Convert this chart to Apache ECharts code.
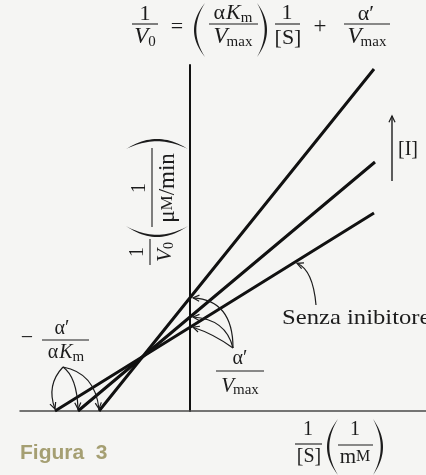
<!DOCTYPE html>
<html>
<head>
<meta charset="utf-8">
<script src="https://cdn.jsdelivr.net/npm/echarts@6/dist/echarts.min.js"></script>
<style>
html, body { margin: 0; padding: 0; background: #f5f5f3; }
#c { width: 426px; height: 475px; }
</style>
</head>
<body>
<div id="c"></div>
<script>
// Lineweaver–Burk plot: 1/V0 against 1/[S] for increasing inhibitor concentration
const X_MIN = -8.5, X_MAX = 11.8, Y_MAX = 17.3;
const seriesNames = ['[I] alta', '[I] media', 'Senza inibitore'];
const xIntercepts = [-4.55, -5.6, -6.75];   // -α'/αKm
const yIntercepts = [5.66, 4.7, 4.19];      // α'/Vmax
const endX = [9.2, 9.25, 9.2];
const endY = [17.1, 12.45, 9.9];

const SERIF = '"Liberation Serif", "DejaVu Serif", serif';
const INK = '#1c1c1c';

const chart = echarts.init(document.getElementById('c'));
chart.setOption({
  backgroundColor: '#f5f5f3',
  animation: false,
  grid: { left: 20, right: 0, top: 65, bottom: 64 },
  xAxis: {
    type: 'value', min: X_MIN, max: X_MAX,
    axisLine: { onZero: true, lineStyle: { color: '#4a4a4a', width: 1.5 } },
    axisTick: { show: false }, axisLabel: { show: false }, splitLine: { show: false }
  },
  yAxis: {
    type: 'value', min: 0, max: Y_MAX,
    axisLine: { show: true, onZero: true, lineStyle: { color: '#111', width: 2 } },
    axisTick: { show: false }, axisLabel: { show: false }, splitLine: { show: false }
  },
  series: seriesNames.map((name, i) => ({
    type: 'line', name,
    data: [[xIntercepts[i], 0], [0, yIntercepts[i]], [endX[i], endY[i]]],
    symbol: 'none', silent: true, z: 3,
    lineStyle: { color: '#111', width: 3, cap: 'butt' }
  }))
});

const toPx = p => chart.convertToPixel({ gridIndex: 0 }, p);

// ---- drawing helpers ----
const measureCtx = document.createElement('canvas').getContext('2d');
function fontOf(size, italic, bold, family) {
  return (italic ? 'italic ' : '') + (bold ? 'bold ' : '') + size + 'px ' + (family || SERIF);
}
function txt(x, y, text, size, opts = {}) {
  const align = opts.align || 'center';
  const style = {
    text, x: 0, y: 0,
    font: fontOf(size, opts.italic, opts.bold, opts.family),
    fill: opts.fill || INK,
    align, verticalAlign: 'middle',
    textAlign: align, textVerticalAlign: 'middle'
  };
  if (opts.rich) style.rich = opts.rich;
  return { type: 'text', x, y, z: 20, scaleX: opts.scaleX || 1, style };
}
// a run of glyph groups set side by side (e.g. V + subscript), centred on cx
// pieces: [text, size, italic, dy, gapBefore]
function run(cx, y, pieces) {
  const widths = pieces.map(p => { measureCtx.font = fontOf(p[1], p[2]); return measureCtx.measureText(p[0]).width; });
  const total = widths.reduce((s, w, i) => s + w + (pieces[i][4] || 0), 0);
  let x = cx - total / 2;
  return pieces.map((p, i) => {
    x += p[4] || 0;
    const el = txt(x, y + (p[3] || 0), p[0], p[1], { italic: p[2], align: 'left' });
    x += widths[i];
    return el;
  });
}
function seg(x1, y1, x2, y2, w = 1.1, color = INK) {
  return { type: 'line', z: 20, shape: { x1, y1, x2, y2 }, style: { stroke: color, lineWidth: w } };
}
// crescent shaped bracket, thick in the middle; dir -1 for "(", +1 for ")"
function paren(xEnd, yTop, yBot, depth, dir, thick = 2.3) {
  const ym = (yTop + yBot) / 2;
  const cOuter = xEnd + dir * depth * 2;
  const cInner = xEnd + dir * (depth - thick) * 2;
  const q = (c, t) => [
    (1 - t) * (1 - t) * xEnd + 2 * t * (1 - t) * c + t * t * xEnd,
    (1 - t) * (1 - t) * yTop + 2 * t * (1 - t) * ym + t * t * yBot
  ];
  const pts = [];
  for (let k = 0; k <= 24; k++) pts.push(q(cOuter, k / 24));
  for (let k = 23; k >= 1; k--) pts.push(q(cInner, k / 24));
  return { type: 'polygon', z: 20, shape: { points: pts }, style: { fill: INK } };
}
function arrowHead(tip, from, len = 7, ang = 0.45) {
  const dx = tip[0] - from[0], dy = tip[1] - from[1];
  const n = Math.hypot(dx, dy); const ux = dx / n, uy = dy / n;
  const rot = a => [ux * Math.cos(a) - uy * Math.sin(a), ux * Math.sin(a) + uy * Math.cos(a)];
  const a = rot(ang), b = rot(-ang);
  return {
    type: 'polyline', z: 21,
    shape: { points: [[tip[0] - a[0] * len, tip[1] - a[1] * len], tip, [tip[0] - b[0] * len, tip[1] - b[1] * len]] },
    style: { stroke: INK, lineWidth: 1.2, fill: null }
  };
}
function curvedArrow(start, ctrl, tip) {
  return [
    { type: 'bezierCurve', z: 21, shape: { x1: start[0], y1: start[1], cpx1: ctrl[0], cpy1: ctrl[1], x2: tip[0], y2: tip[1] },
      style: { stroke: INK, lineWidth: 1.2, fill: null } },
    arrowHead(tip, ctrl)
  ];
}

const g = [];

// equation on top: 1/V0 = (αKm/Vmax) 1/[S] + α'/Vmax
g.push(txt(145, 14, '1', 22));
g.push(seg(132, 24, 158, 24));
g.push(...run(145, 37, [['V', 23, true], ['0', 15, false, 5, 0]]));
g.push(txt(177, 27, '=', 22));
g.push(paren(205, 3, 57, 11, -1));
g.push(...run(233, 13, [['α', 22], ['K', 22, true, 0, 1], ['m', 15, false, 5, 0]]));
g.push(seg(209, 24, 258, 24));
g.push(...run(233, 37, [['V', 23, true], ['max', 15, false, 5, -1]]));
g.push(paren(257, 3, 57, 10, 1));
g.push(txt(287, 13, '1', 22));
g.push(seg(275, 24, 300, 24));
g.push(txt(288, 38, '[S]', 22));
g.push(txt(320, 27, '+', 23));
g.push(txt(366, 14, 'α′', 22));
g.push(seg(344, 24, 390, 24));
g.push(...run(367, 37, [['V', 23, true], ['max', 15, false, 5, -1]]));

// rotated y-axis title: 1/V0 (1/(μM/min))
g.push({
  type: 'group', x: 150, y: 265, rotation: Math.PI / 2,
  children: [
    txt(13, -12, '1', 20),
    seg(0, 0, 26, 0),
    ...run(13, 15, [['V', 21, true], ['0', 14, false, 4, 0]]),
    paren(39, -24, 38, 11, -1),
    txt(77, -10, '1', 20),
    seg(38, 2, 117, 2),
    txt(77, 18, '{a|μ}{b|M}{a|/min}', 23, {
      rich: { a: { font: '23px ' + SERIF, fill: INK }, b: { font: '17px ' + SERIF, fill: INK } }
    }),
    paren(116, -24, 38, 10, 1)
  ]
});

// x-axis title: 1/[S] (1/mM)
g.push(txt(308, 430, '1', 20));
g.push(seg(295, 444, 322, 444));
g.push(txt(309, 457, '[S]', 20));
g.push(paren(338, 419, 475, 11, -1));
g.push(txt(355, 430, '1', 20));
g.push(seg(338, 445, 373, 445));
g.push(txt(355, 457, '{a|m}{b|M}', 21, {
  rich: { a: { font: '21px ' + SERIF, fill: INK }, b: { font: '16px ' + SERIF, fill: INK } }
}));
g.push(paren(373, 419, 475, 10, 1));

// α'/Vmax next to the y-intercepts
g.push(txt(240, 359, 'α′', 20));
g.push(seg(216, 371, 264, 371));
g.push(...run(240, 386, [['V', 21, true], ['max', 15, false, 4, -1]]));

// -α'/αKm next to the x-intercepts
g.push(txt(27, 338, '−', 22));
g.push(txt(62, 329, 'α′', 20));
g.push(seg(42, 340, 89, 340));
g.push(...run(66, 353, [['α', 20], ['K', 20, true, 0, 1], ['m', 15, false, 4, 0]]));

// arrows to the y-intercepts
const upperCtrl = [[233, 300], [226, 319], [214, 334]];
yIntercepts.forEach((v, i) => {
  const p = toPx([0, v]);
  g.push(...curvedArrow([233, 348], upperCtrl[i], [p[0] + 3, p[1]]));
});
// arrows to the x-intercepts
const lowerCtrl = [[95, 373], [77, 377], [46, 385]];
xIntercepts.forEach((v, i) => {
  const p = toPx([v, 0]);
  g.push(...curvedArrow([63, 367], lowerCtrl[i], [p[0], p[1] - 2]));
});

// "Senza inibitore" pointer onto the uninhibited line
const a0 = toPx([0, yIntercepts[2]]), a1 = toPx([endX[2], endY[2]]);
const tipX = 297;
const tipY = a0[1] + (a1[1] - a0[1]) * (tipX - a0[0]) / (a1[0] - a0[0]) + 2.5;
g.push(...curvedArrow([316, 305], [313, 270], [tipX, tipY]));
g.push(txt(282, 318, 'Senza inibitore', 22, { align: 'left', scaleX: 1.12 }));

// increasing [I]
g.push(seg(392, 181, 392, 116, 1.4));
g.push(arrowHead([392, 116], [392, 130], 7, 0.45));
g.push(txt(408, 150, '[I]', 20));

// figure caption
g.push(txt(20, 453, 'Figura  3', 21, { bold: true, align: 'left', family: '"Liberation Sans", Arial, sans-serif', fill: '#a59f72' }));

chart.setOption({ graphic: { elements: g } });
</script>
</body>
</html>
